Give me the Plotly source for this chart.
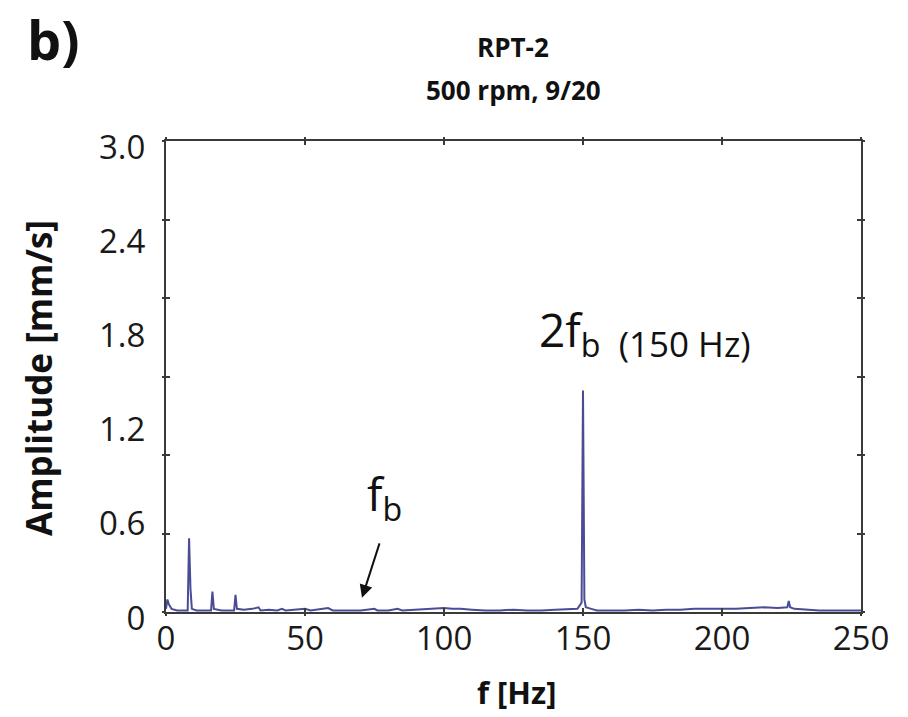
import plotly.graph_objects as go

# ---- data ----
freq_hz = [0, 0.5, 1, 2, 4, 6, 7.8, 8.3, 8.8, 9.3, 11, 13, 16.2, 16.7, 17.2, 20,
           24.5, 25, 25.5, 28, 31, 33.3, 34, 37, 40, 41.7, 43, 46, 50, 52, 55,
           58.3, 60, 65, 70, 75, 76, 80, 83.3, 85, 90, 92, 95, 100, 103, 106,
           110, 115, 120, 125, 130, 135, 140, 145, 148, 149.5, 150, 150.5, 151,
           153, 155, 160, 165, 170, 175, 180, 185, 190, 195, 200, 205, 210, 215,
           220, 223.5, 224, 224.5, 226, 230, 235, 240, 245, 250]
amp_mms = [0.02, 0.08, 0.05, 0.02, 0.01, 0.01, 0.01, 0.47, 0.15, 0.02, 0.01, 0.01,
           0.01, 0.13, 0.02, 0.01, 0.01, 0.11, 0.02, 0.015, 0.02, 0.03, 0.01,
           0.015, 0.01, 0.02, 0.01, 0.015, 0.02, 0.01, 0.015, 0.025, 0.01, 0.01,
           0.01, 0.02, 0.01, 0.01, 0.02, 0.01, 0.015, 0.02, 0.02, 0.025, 0.02,
           0.02, 0.015, 0.01, 0.01, 0.015, 0.01, 0.01, 0.015, 0.02, 0.02, 0.06,
           1.41, 0.08, 0.03, 0.02, 0.01, 0.01, 0.01, 0.015, 0.01, 0.015, 0.015,
           0.02, 0.02, 0.02, 0.02, 0.025, 0.03, 0.025, 0.03, 0.07, 0.03, 0.02,
           0.015, 0.01, 0.01, 0.01, 0.01]

x_ticks = [0, 50, 100, 150, 200, 250]
y_label_vals = [0, 0.6, 1.2, 1.8, 2.4, 3.0]
y_label_text = ["0", "0.6", "1.2", "1.8", "2.4", "3.0"]
y_mark_vals = [0, 0.5, 1.0, 1.5, 2.0, 2.5, 3.0]

FONT = "Open Sans"
LINE = "#3a3a3a"

fig = go.Figure()
fig.add_trace(go.Scatter(x=freq_hz, y=amp_mms, mode="lines",
                         line=dict(color="#4a4c96", width=2), showlegend=False,
                         hoverinfo="skip"))
# empty traces to materialise the tick-mark axes
fig.add_trace(go.Scatter(x=[], y=[], xaxis="x2", yaxis="y2", showlegend=False))
fig.add_trace(go.Scatter(x=[], y=[], xaxis="x3", yaxis="y3", showlegend=False))

L, R, T, B = 166, 47, 141, 105
W, H = 908, 717
pw, ph = W - L - R, H - T - B

def px(xp):
    return (xp - L) / pw

def py(yp):
    return (H - B - yp) / ph

fig.update_layout(
    width=W, height=H,
    margin=dict(l=L, r=R, t=T, b=B),
    paper_bgcolor="white", plot_bgcolor="white",
    font=dict(family=FONT, color="#1a1a1a"),
    xaxis=dict(range=[0, 250], tickvals=x_ticks, ticks="", showgrid=False,
               zeroline=False, showline=True, linecolor=LINE, linewidth=2,
               mirror=True, tickfont=dict(size=33, family=FONT, color="#1a1a1a"),
               ticklabelstandoff=-4),
    yaxis=dict(range=[0, 3], tickvals=y_label_vals, ticktext=y_label_text,
               ticks="", showgrid=False, zeroline=False, showline=True,
               linecolor=LINE, linewidth=2, mirror=True,
               tickfont=dict(size=33, family=FONT, color="#1a1a1a"),
               ticklabelshift=6, ticklabelstandoff=12),
    xaxis2=dict(range=[0, 250], overlaying="x", anchor="y2", tickvals=x_ticks,
                ticks="inside", ticklen=4, tickwidth=2, tickcolor=LINE,
                showticklabels=False, showgrid=False, zeroline=False,
                showline=False, mirror="ticks"),
    yaxis2=dict(range=[0, 3], overlaying="y", anchor="x2", tickvals=y_mark_vals,
                ticks="inside", ticklen=4, tickwidth=2, tickcolor=LINE,
                showticklabels=False, showgrid=False, zeroline=False,
                showline=False, mirror="ticks"),
    xaxis3=dict(range=[0, 250], overlaying="x", anchor="y3", tickvals=x_ticks,
                ticks="outside", ticklen=3, tickwidth=2, tickcolor=LINE,
                showticklabels=False, showgrid=False, zeroline=False,
                showline=False, mirror="ticks"),
    yaxis3=dict(range=[0, 3], overlaying="y", anchor="x3", tickvals=y_mark_vals,
                ticks="outside", ticklen=3, tickwidth=2, tickcolor=LINE,
                showticklabels=False, showgrid=False, zeroline=False,
                showline=False, mirror="ticks"),
)

ann = []
# panel letter and titles
ann.append(dict(text="<b>b)</b>", x=px(25), y=py(0), xref="paper", yref="paper",
                xanchor="left", yanchor="top", showarrow=False,
                font=dict(size=54, family=FONT, color="#111")))
ann.append(dict(text="<b>RPT-2</b>", x=px(513), y=py(47), xref="paper", yref="paper",
                xanchor="center", yanchor="middle", showarrow=False,
                font=dict(size=26, family=FONT, color="#111")))
ann.append(dict(text="<b>500 rpm, 9/20</b>", x=px(513), y=py(90), xref="paper",
                yref="paper", xanchor="center", yanchor="middle", showarrow=False,
                font=dict(size=26, family=FONT, color="#111")))
# axis titles
ann.append(dict(text="<b>Amplitude [mm/s]</b>", x=px(38), y=py(378), xref="paper",
                yref="paper", xanchor="center", yanchor="middle", showarrow=False,
                textangle=-90, font=dict(size=35, family=FONT, color="#111")))
ann.append(dict(text="<b>f [Hz]</b>", x=px(516), y=py(692), xref="paper",
                yref="paper", xanchor="center", yanchor="middle", showarrow=False,
                font=dict(size=31, family=FONT, color="#111")))
# peak labels
ann.append(dict(text="2f<sub>b<span style='font-size:35px'>  (150 Hz)</span></sub>",
                x=133.3, y=1.78, xref="x", yref="y", xanchor="left",
                yanchor="middle", showarrow=False,
                font=dict(size=46, family=FONT, color="#111")))
ann.append(dict(text="f<sub>b</sub>", x=71.5, y=0.74, xref="x", yref="y",
                xanchor="left", yanchor="middle", showarrow=False,
                font=dict(size=46, family=FONT, color="#111")))
ann.append(dict(text="", x=70.5, y=0.09, xref="x", yref="y", ax=18, ay=-56,
                showarrow=True, arrowhead=2, arrowsize=1.3, arrowwidth=2,
                arrowcolor="#111"))
fig.update_layout(annotations=ann)

fig.write_html("out.html")
